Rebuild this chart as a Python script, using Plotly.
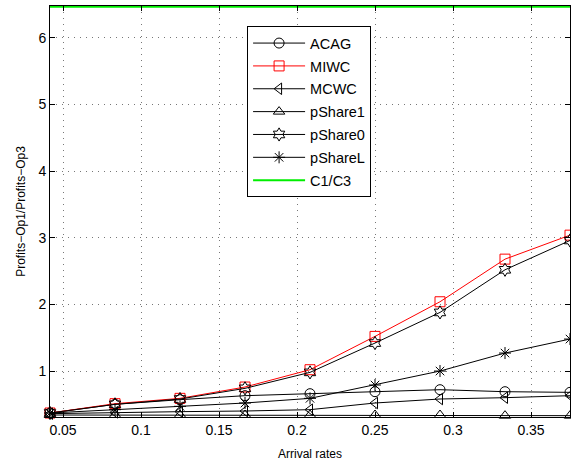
import plotly.graph_objects as go

x_rates = [1/24, 2/24, 3/24, 4/24, 5/24, 6/24, 7/24, 8/24, 9/24]
acag = [0.37, 0.50, 0.57, 0.63, 0.66, 0.69, 0.72, 0.69, 0.68]
miwc = [0.37, 0.51, 0.59, 0.76, 1.02, 1.52, 2.04, 2.68, 3.04]
mcwc = [0.36, 0.38, 0.39, 0.40, 0.42, 0.52, 0.58, 0.60, 0.63]
pshare1 = [0.34, 0.34, 0.34, 0.34, 0.34, 0.34, 0.34, 0.33, 0.33]
pshare0 = [0.37, 0.50, 0.58, 0.74, 0.98, 1.42, 1.88, 2.52, 2.96]
pshareL = [0.37, 0.42, 0.47, 0.52, 0.59, 0.79, 1.00, 1.27, 1.48]
c1c3 = [6.47] * len(x_rates)

x_ticks = [0.05, 0.1, 0.15, 0.2, 0.25, 0.3, 0.35]
x_tick_labels = ["0.05", "0.1", "0.15", "0.2", "0.25", "0.3", "0.35"]
y_ticks = [1, 2, 3, 4, 5, 6]
y_tick_labels = ["1", "2", "3", "4", "5", "6"]

series = [
    ("ACAG", acag, "black", "circle-open"),
    ("MIWC", miwc, "red", "square-open"),
    ("MCWC", mcwc, "black", "triangle-left-open"),
    ("pShare1", pshare1, "black", "triangle-up-open"),
    ("pShare0", pshare0, "black", "hexagram-open"),
    ("pShareL", pshareL, "black", "asterisk-open"),
]

fig = go.Figure()
for name, vals, col, sym in series:
    fig.add_trace(go.Scatter(
        x=x_rates, y=vals, name=name, mode="lines+markers", legendgroup=name,
        line=dict(color=col, width=1),
        marker=dict(symbol=sym, size=10, color=col, line=dict(color=col, width=1)),
        cliponaxis=False,
    ))
fig.add_trace(go.Scatter(
    x=x_rates, y=c1c3, name="C1/C3", mode="lines", legendgroup="C1/C3",
    line=dict(color="#00ee00", width=2),
))

font = dict(family="Liberation Sans, Arial, sans-serif", size=13, color="black")
fig.update_layout(
    width=571, height=464,
    margin=dict(l=50, r=1, t=6, b=47),
    paper_bgcolor="white", plot_bgcolor="white",
    font=font,
    showlegend=True,
    legend=dict(
        x=0.379, y=0.951, xanchor="left", yanchor="top",
        bordercolor="black", borderwidth=1, bgcolor="white",
        itemwidth=52, tracegroupgap=1,
        font=dict(family="Liberation Sans, Arial, sans-serif", size=14.5, color="black"),
    ),
    xaxis=dict(
        range=[1/24, 0.375], tickvals=x_ticks, ticktext=x_tick_labels,
        ticks="inside", ticklen=5, tickcolor="black",
        showline=True, linecolor="black", linewidth=1, mirror="allticks",
        showgrid=True, gridcolor="#777777", griddash="1px,5px", gridwidth=1,
        zeroline=False,
        title=dict(text="Arrival rates", font=dict(size=12), standoff=12),
        tickfont=dict(size=14),
    ),
    yaxis=dict(
        range=[0.31, 6.48], tickvals=y_ticks, ticktext=y_tick_labels,
        ticks="inside", ticklen=5, tickcolor="black",
        showline=True, linecolor="black", linewidth=1, mirror="allticks",
        showgrid=True, gridcolor="#777777", griddash="1px,5px", gridwidth=1,
        zeroline=False,
        title=dict(text="Profits\u2212Op1/Profits\u2212Op3", font=dict(size=12), standoff=10),
        tickfont=dict(size=14),
    ),
)
fig.write_html("out.html", config={"displayModeBar": False})

with open("out.html", "r", encoding="utf-8") as f:
    html = f.read()
html = html.replace("<body>", "<body style=\"margin:0;overflow:hidden\">", 1)
with open("out.html", "w", encoding="utf-8") as f:
    f.write(html)
